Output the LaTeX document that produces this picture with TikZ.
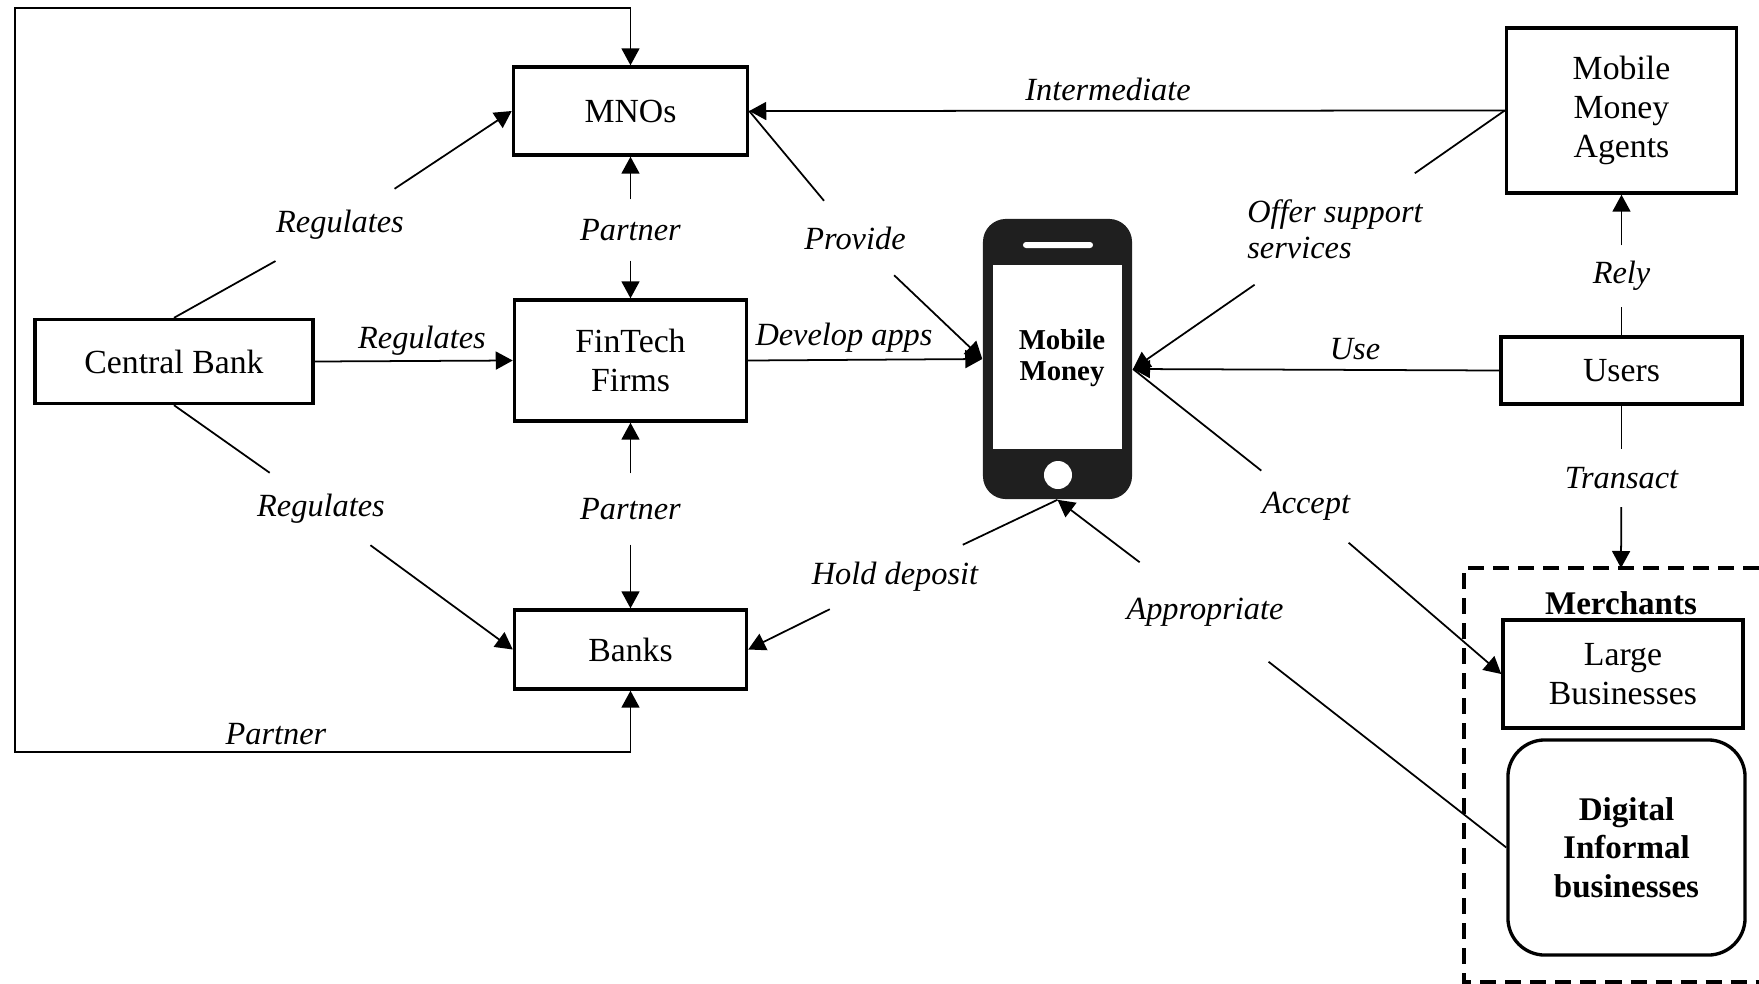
\documentclass[tikz,border=0pt]{standalone}
\usepackage{xcolor}
\usepackage{fontspec}
\setmainfont{Liberation Serif}
\usetikzlibrary{arrows.meta}
\definecolor{phoneblack}{HTML}{1F1F1F}

\begin{document}
\begin{tikzpicture}[x=0.01cm,y=-0.01cm,
        box/.style={draw,line width=0.95pt,inner sep=0pt,align=center,font=\fontsize{9.6}{11}\selectfont},
        softbox/.style={box,rounded corners=0.37cm,font=\fontsize{9.4}{11}\selectfont\bfseries},
        flow/.style={draw,line width=0.5pt,-{Triangle[length=0.17cm,width=0.18cm]}},
        plain/.style={draw,line width=0.5pt},
        verb/.style={inner sep=0pt,align=center,font=\fontsize{9.2}{10.2}\selectfont\itshape,minimum height=#1},
        verb/.default=0cm]
        \useasboundingbox (0,0) rectangle (1759,984);

        % Grupo de comerciantes
        \coordinate (merchTop) at (1621,568);
        \draw[line width=1pt,dash pattern=on 0.16cm off 0.09cm] (1759,568) -- (1464,568) -- (1464,982) -- (1759,982);
        \node[font=\fontsize{9.4}{11}\selectfont\bfseries] (merchants) at (1621,603) {Merchants};

        % Actores
        \node[box,minimum width=2.34cm,minimum height=0.88cm] (mnos) at (630.5,111) {MNOs};
        \node[box,minimum width=2.32cm,minimum height=1.21cm] (fintech) at (630.5,360.5) {FinTech\\Firms};
        \node[box,minimum width=2.32cm,minimum height=0.79cm] (banks) at (630.5,649.5) {Banks};
        \node[box,minimum width=2.78cm,minimum height=0.84cm] (cb) at (174,361.5) {Central Bank};
        \node[box,minimum width=2.30cm,minimum height=1.65cm] (agents) at (1621.5,110.5) {Mobile\\Money\\Agents};
        \node[box,minimum width=2.41cm,minimum height=0.67cm] (users) at (1621.5,370.5) {Users};
        \node[box,minimum width=2.40cm,minimum height=1.08cm] (large) at (1623,674) {Large\\Businesses};
        \node[softbox,minimum width=2.37cm,minimum height=2.15cm] (digital) at (1626.5,847.5) {Digital\\Informal\\businesses};

        % Telefono
        \node[fill=phoneblack,rounded corners=0.23cm,minimum width=1.49cm,minimum height=2.80cm,inner sep=0pt] (phone) at (1057.5,359) {};
        \node[fill=white,minimum width=1.29cm,minimum height=1.84cm,inner sep=0pt] (screen) at (1057.5,357) {};
        \node[fill=white,rounded corners=0.03cm,minimum width=0.70cm,minimum height=0.06cm,inner sep=0pt] (speaker) at (1058,245) {};
        \node[fill=white,circle,minimum size=0.28cm,inner sep=0pt] (button) at (1058,475) {};
        \node[align=center,inner sep=0pt,font=\fontsize{8.2}{9}\selectfont\bfseries] (mm) at (1062,358) {Mobile\\Money};
        \coordinate (phoneRight) at (1133,369);

        % Etiquetas
        \node[verb=0.71cm] (regUp) at (340,225) {Regulates};
        \node[verb=0.71cm] (regDown) at (321,509) {Regulates};
        \node[verb] (regMid) at (422,341) {Regulates};
        \node[verb=0.60cm] (partnerUp) at (630.5,230) {Partner};
        \node[verb=0.70cm] (partnerDown) at (630.5,509) {Partner};
        \node[verb] (partnerOut) at (276,734) {Partner};
        \node[verb] (develop) at (844,338) {Develop apps};
        \node[verb=0.73cm] (provide) at (855,238) {Provide};
        \node[verb=0.63cm] (hold) at (895,577) {Hold deposit};
        \node[verb=0.98cm] (appropriate) at (1205,612) {Appropriate};
        \node[verb=0.72cm] (accept) at (1306,506) {Accept};
        \node[verb] (use) at (1355,349) {Use};
        \node[verb=1.10cm,align=left] (offer) at (1335,229) {Offer support\\services};
        \node[verb] (intermediate) at (1108,89) {Intermediate};
        \node[verb=0.60cm] (rely) at (1621.5,276) {Rely};
        \node[verb=0.57cm] (transact) at (1621.5,478) {Transact};

        % Conexiones
        \coordinate (outTop) at (15,8);
        \coordinate (outBottom) at (15,752);
        \draw[flow,{Triangle[length=0.17cm,width=0.18cm]}-{Triangle[length=0.17cm,width=0.18cm]}] (mnos.north) |- (outTop) -- (outBottom) -| (banks.south);

        \draw[plain] (cb.north) -- (regUp);
        \draw[flow] (regUp) -- (mnos.west);
        \draw[flow] (cb.east) -- (fintech.west);
        \draw[plain] (cb.south) -- (regDown);
        \draw[flow] (regDown) -- (banks.west);

        \draw[flow] (partnerUp) -- (mnos.south);
        \draw[flow] (partnerUp) -- (fintech.north);
        \draw[flow] (partnerDown) -- (fintech.south);
        \draw[flow] (partnerDown) -- (banks.north);

        \draw[plain] (mnos.east) -- (provide);
        \draw[flow] (provide) -- (phone.west);
        \draw[flow] (fintech.east) -- (phone.west);
        \draw[plain] (phone.south) -- (hold);
        \draw[flow] (hold) -- (banks.east);

        \draw[flow] (agents.west) -- (mnos.east);
        \draw[plain] (agents.west) -- (offer);
        \draw[flow] (offer) -- (phoneRight);
        \draw[flow] (users.west) -- (phoneRight);
        \draw[plain] (users.north) -- (rely);
        \draw[flow] (rely) -- (agents.south);
        \draw[plain] (users.south) -- (transact);
        \draw[flow] (transact) -- (merchTop);

        \draw[plain] (phoneRight) -- (accept);
        \draw[flow] (accept) -- (large.west);
        \draw[plain] (digital.west) -- (appropriate);
        \draw[flow] (appropriate) -- (phone.south);
    \end{tikzpicture}
\end{document}
